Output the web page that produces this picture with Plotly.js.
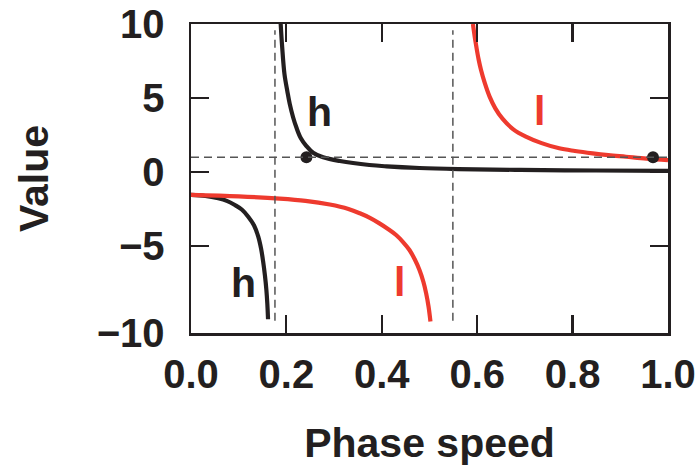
<!DOCTYPE html>
<html>
<head>
<meta charset="utf-8">
<script src="https://cdn.plot.ly/plotly-3.0.1.min.js"></script>
<style>html,body{margin:0;padding:0;background:#fff;}#chart{width:696px;height:466px;}</style>
</head>
<body>
<div id="chart"></div>
<script>
// h branch (black), below the pole
const hNegX = [0.0, 0.03, 0.057, 0.075, 0.092, 0.107, 0.12, 0.132, 0.141, 0.147, 0.151, 0.155, 0.158, 0.160, 0.1615];
const hNegY = [-1.55, -1.62, -1.78, -1.95, -2.23, -2.55, -3.02, -3.6, -4.37, -5.2, -6.0, -7.0, -7.97, -8.9, -9.95];
// h branch (black), above the pole
const hPosX = [0.188, 0.191, 0.196, 0.202, 0.207, 0.214, 0.221, 0.23, 0.242, 0.256, 0.277, 0.312, 0.374, 0.41, 0.479, 0.56, 0.69, 0.85, 1.0];
const hPosY = [10.0, 8.5, 6.6, 5.45, 4.6, 3.7, 3.0, 2.3, 1.75, 1.3, 0.99, 0.74, 0.47, 0.38, 0.27, 0.2, 0.14, 0.1, 0.07];
// l branch (red), below the pole
const lNegX = [0.0, 0.1, 0.186, 0.24, 0.291, 0.33, 0.354, 0.375, 0.395, 0.413, 0.43, 0.445, 0.458, 0.469, 0.479, 0.487, 0.493, 0.498, 0.502];
const lNegY = [-1.55, -1.65, -1.8, -1.95, -2.2, -2.5, -2.79, -3.1, -3.47, -3.85, -4.26, -4.75, -5.27, -5.9, -6.62, -7.4, -8.2, -9.1, -10.1];
// l branch (red), above the pole
const lPosX = [0.591, 0.595, 0.598, 0.603, 0.608, 0.616, 0.626, 0.638, 0.653, 0.675, 0.702, 0.735, 0.772, 0.805, 0.842, 0.875, 0.912, 0.955, 1.0];
const lPosY = [10.0, 9.1, 8.5, 7.6, 6.89, 6.0, 5.09, 4.3, 3.6, 2.9, 2.39, 1.95, 1.6, 1.42, 1.26, 1.14, 1.03, 0.9, 0.8];
// poles (vertical dashed lines) and reference level
const poleX = [0.176, 0.549];
const refY = 1;
// marked points
const dotX = [0.242, 0.9686];
const dotY = [1, 1];
// labels
const labelText = ["h", "h", "l", "l"];
const labelX = [0.27, 0.11, 0.73, 0.437];
const labelY = [4.05, -7.47, 4.09, -7.43];
const labelColor = ["#231f20", "#231f20", "#ee3a2e", "#ee3a2e"];
// ticks
const yTickVals = [-10.88, -5, 0, 5, 10];
const yTickText = ["\u221210", "\u22125", "0", "5", "10"];
const xTickVals = [0, 0.2, 0.4, 0.6, 0.8, 1.0];
const xTickText = ["0.0", "0.2", "0.4", "0.6", "0.8", "1.0"];

const BLACK = "#231f20", RED = "#ee3a2e";
const FONT = "Liberation Sans, Arial, Helvetica, sans-serif";

const line = (x, y, c) => ({x, y, mode: "lines", type: "scatter", line: {color: c, width: 4.2, shape: "spline", smoothing: 1}, hoverinfo: "skip", showlegend: false});

const traces = [
  line(hNegX, hNegY, BLACK),
  line(hPosX, hPosY, BLACK),
  line(lNegX, lNegY, RED),
  line(lPosX, lPosY, RED),
  {x: dotX, y: dotY, mode: "markers", type: "scatter", marker: {color: BLACK, size: 12}, showlegend: false}
];

const shapes = poleX.map(px => ({type: "line", xref: "x", yref: "paper", x0: px, x1: px, y0: 0.04, y1: 0.98, line: {color: "#555", width: 1.5, dash: "8px,5px"}}));
shapes.push({type: "line", xref: "paper", yref: "y", x0: 0, x1: 1, y0: refY, y1: refY, line: {color: "#555", width: 1.5, dash: "8px,5px"}});

const annotations = labelText.map((t, i) => ({x: labelX[i], y: labelY[i], xref: "x", yref: "y", text: t, showarrow: false, font: {family: FONT, size: 41, color: labelColor[i], weight: "bold"}}));

const layout = {
  width: 696, height: 466,
  margin: {l: 191, r: 28, t: 24, b: 133},
  paper_bgcolor: "#fff", plot_bgcolor: "#fff",
  showlegend: false,
  xaxis: {
    range: [0, 1], tickvals: xTickVals, ticktext: xTickText,
    ticks: "inside", ticklen: 18, tickwidth: 2.2, tickcolor: BLACK,
    showline: true, linecolor: BLACK, linewidth: 2.5, mirror: "allticks",
    showgrid: false, zeroline: false,
    tickfont: {family: FONT, size: 40, color: BLACK, weight: "bold"},
    ticklabelstandoff: 4,
    title: {text: "Phase speed", font: {family: FONT, size: 41, color: BLACK, weight: "bold"}, standoff: 36}
  },
  yaxis: {
    range: [-10.88, 10], tickvals: yTickVals, ticktext: yTickText,
    ticks: "inside", ticklen: 18, tickwidth: 2.2, tickcolor: BLACK,
    showline: true, linecolor: BLACK, linewidth: 2.5, mirror: "allticks",
    showgrid: false, zeroline: false,
    tickfont: {family: FONT, size: 40, color: BLACK, weight: "bold"},
    ticklabelstandoff: 16,
    title: {text: "Value", font: {family: FONT, size: 41, color: BLACK, weight: "bold"}, standoff: 36}
  },
  shapes, annotations
};

Plotly.newPlot("chart", traces, layout, {staticPlot: true, displayModeBar: false});
</script>
</body>
</html>
